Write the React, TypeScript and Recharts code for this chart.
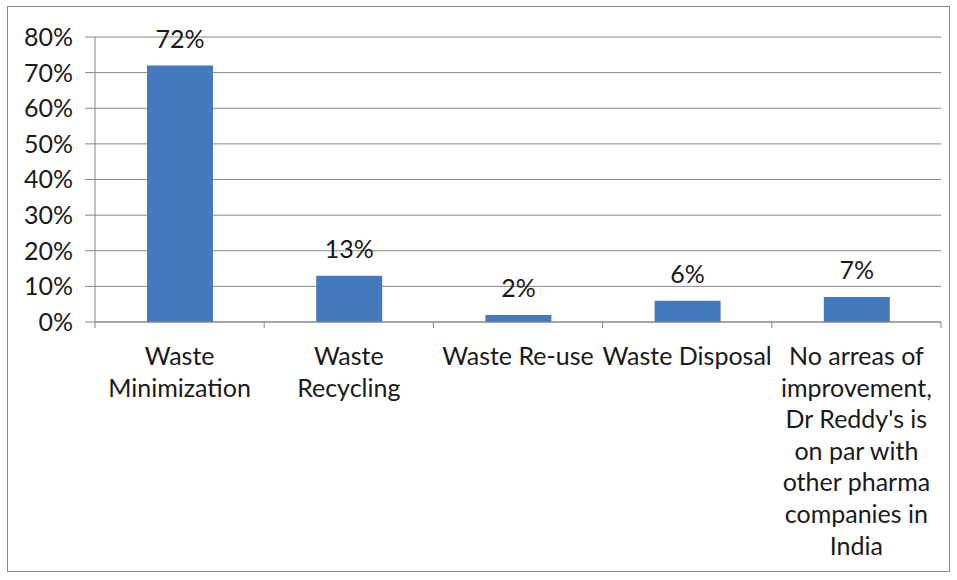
import React from "react";
import { BarChart, Bar, XAxis, YAxis, CartesianGrid, LabelList } from "recharts";

const categories = [
  "Waste\nMinimization",
  "Waste\nRecycling",
  "Waste Re-use",
  "Waste Disposal",
  "No arreas of\nimprovement,\nDr Reddy's is\non par with\nother pharma\ncompanies in\nIndia",
];
const values = [72, 13, 2, 6, 7];
const yTicks = [0, 10, 20, 30, 40, 50, 60, 70, 80];

const data = categories.map((c, i) => ({ name: c, value: values[i] }));

const W = 957;
const H = 580;
const MARGIN = { top: 37, right: 16, left: 0, bottom: 0 };
const YAXIS_W = 95;
const XAXIS_H = 258;
const PLOT_W = W - MARGIN.left - MARGIN.right - YAXIS_W;
const BAND = PLOT_W / categories.length;
const FONT = "Lato, Carlito, Calibri, sans-serif";
const GRID = "#878787";

function XTick(props: any) {
  const { x, y, payload, index } = props;
  const lines = String(payload.value).split("\n");
  const left = x - BAND / 2;
  const right = x + BAND / 2;
  return (
    <g>
      <line x1={left} x2={left} y1={y} y2={y + 6} stroke={GRID} strokeWidth={1} />
      {index === categories.length - 1 && (
        <line x1={right} x2={right} y1={y} y2={y + 6} stroke={GRID} strokeWidth={1} />
      )}
      <text x={x} y={y + 43} textAnchor="middle" fontFamily={FONT} fontSize={25} fill="#1a1a1a">
        {lines.map((l, i) => (
          <tspan key={i} x={x} dy={i === 0 ? 0 : 31.6}>
            {l}
          </tspan>
        ))}
      </text>
    </g>
  );
}

export default function App() {
  return (
    <div style={{ position: "absolute", left: 0, top: 0, width: W, height: H, background: "#fff" }}>
      <div
        style={{
          position: "absolute",
          left: 7,
          top: 6,
          width: 943,
          height: 566,
          border: "1.5px solid #8a8a8a",
          boxSizing: "border-box",
        }}
      />
      <div style={{ position: "absolute", left: 0, top: 0 }}>
        <BarChart width={W} height={H} data={data} margin={MARGIN}>
          <CartesianGrid vertical={false} stroke={GRID} strokeWidth={1} />
          <XAxis
            dataKey="name"
            height={XAXIS_H}
            interval={0}
            tickLine={false}
            tickSize={0}
            tickMargin={0}
            axisLine={{ stroke: GRID }}
            tick={<XTick />}
          />
          <YAxis
            width={YAXIS_W}
            domain={[0, 80]}
            ticks={yTicks}
            interval={0}
            tickFormatter={(v: number) => `${v}%`}
            tickSize={10}
            tickMargin={12}
            tickLine={{ stroke: GRID }}
            axisLine={{ stroke: GRID }}
            tick={{ fontFamily: FONT, fontSize: 25, fill: "#1a1a1a" }}
          />
          <Bar dataKey="value" fill="#4579BD" barSize={66} isAnimationActive={false}>
            <LabelList
              dataKey="value"
              position="top"
              offset={18}
              formatter={(v: any) => `${v}%`}
              style={{ fontFamily: FONT, fontSize: 25, fill: "#1a1a1a" }}
            />
          </Bar>
        </BarChart>
      </div>
    </div>
  );
}
